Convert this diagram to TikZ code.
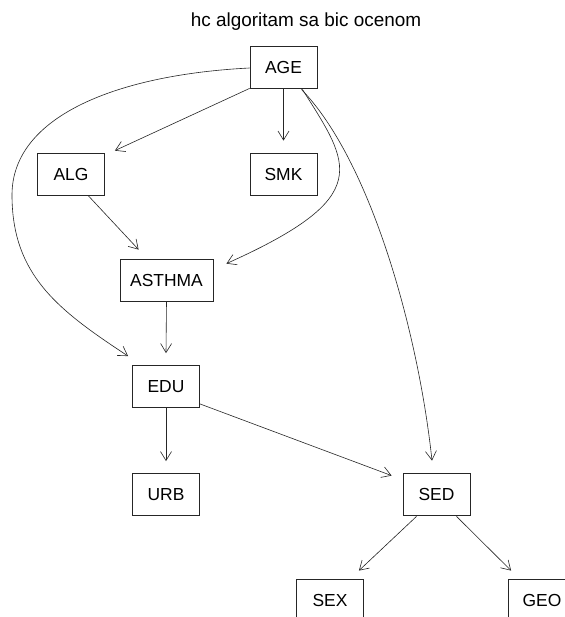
\documentclass[tikz,border=0pt]{standalone}
\usepackage{fontspec}
\setmainfont{Liberation Sans}
\usetikzlibrary{arrows.meta,calc}
\begin{document}
\begin{tikzpicture}[x=1bp,y=-1bp,
  box/.style={draw=black!85,line width=0.8bp,rectangle,minimum width=67bp,
    minimum height=42bp,inner sep=0pt,font=\fontsize{17.5}{20}\selectfont},
  edge/.style={draw=black!85,line width=0.6bp,
    -{Straight Barb[length=9bp,width=11bp,line width=0.6bp]}},
  title/.style={font=\fontsize{19}{22}\selectfont,anchor=base}]
\useasboundingbox (0,0) rectangle (565,617);
\clip (0,0) rectangle (565,617);
\fill[white] (0,0) rectangle (565,617);

\node[title] (T) at (306,26.7) {hc algoritam sa bic ocenom};

% nodes of the network
\node[box] (AGE) at (283.5,67) {AGE};
\node[box] (ALG) at (71,174) {ALG};
\node[box] (SMK) at (283.5,174) {SMK};
\node[box,minimum width=93bp] (ASTHMA) at (166.5,280) {ASTHMA};
\node[box] (EDU) at (166,386.5) {EDU};
\node[box] (URB) at (166,494.5) {URB};
\node[box] (SED) at (436.5,494) {SED};
\node[box] (SEX) at (330,600) {SEX};
\node[box] (GEO) at (542,600) {GEO};

% arcs
\draw[edge] (AGE.south west) -- ($(ALG.north east)+(10,-2)$);
\draw[edge] (AGE.south) -- ($(SMK.north)+(0,-12)$);
\draw[edge] ($(AGE.south east)+(-15,1)$)
  .. controls (350,165) and (376,196.5) .. ($(ASTHMA.north east)+(13,5)$);
\draw[edge] ($(AGE.west)+(0,1)$)
  .. controls (120,74.5) and (12,115) .. (12,195)
  .. controls (12,275) and (58,310) .. ($(EDU.north west)+(-4,-9)$);
\draw[edge] ($(AGE.south east)+(-16,1)$)
  .. controls (370,160) and (418,330) .. ($(SED.north)+(-4.5,-12)$);
\draw[edge] ($(ALG.south)+(17,0)$) -- ($(ASTHMA.north west)+(19,-9)$);
\draw[edge] (ASTHMA.south) -- ($(EDU.north)+(0,-12)$);
\draw[edge] (EDU.south) -- ($(URB.north)+(0,-12)$);
\draw[edge] ($(EDU.south east)+(0,-4)$) -- ($(SED.north west)+(-11,3)$);
\draw[edge] ($(SED.south)+(-20,1)$) -- ($(SEX.north east)+(-5,-8)$);
\draw[edge] ($(SED.south)+(20,1)$) -- ($(GEO.north west)+(3,-8)$);
\end{tikzpicture}
\end{document}
